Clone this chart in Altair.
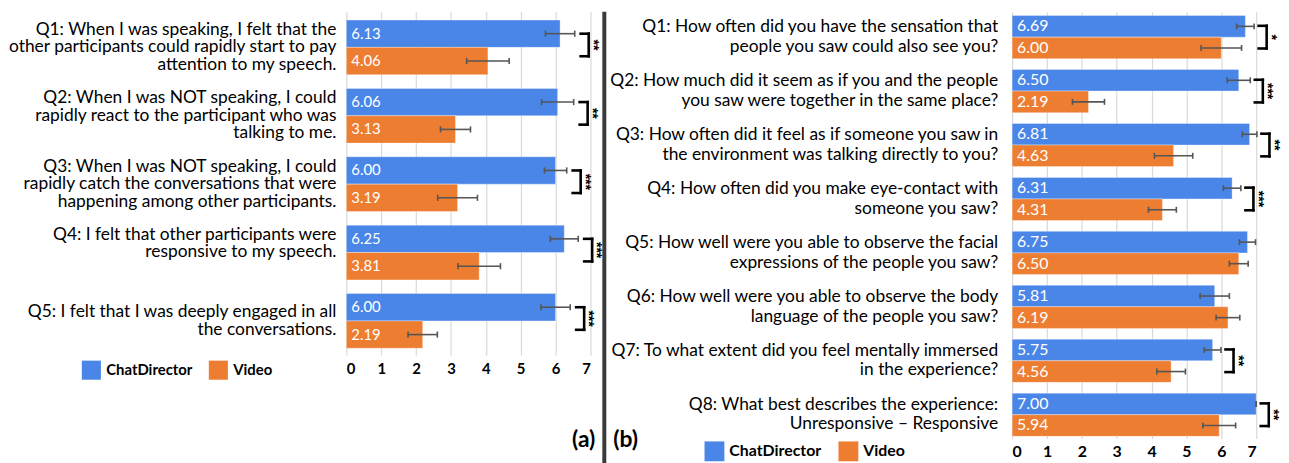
import altair as alt
import pandas as pd

SERIES = ["ChatDirector", "Video"]
COLORS = ["#4a86e8", "#ed7d31"]
FONT = "Lato"

# ---------------- panel (a) ----------------
left_questions = [
    "Q1: When I was speaking, I felt that the\nother participants could rapidly start to pay\nattention to my speech.",
    "Q2: When I was NOT speaking, I could\nrapidly react to the participant who was\ntalking to me.",
    "Q3: When I was NOT speaking, I could\nrapidly catch the conversations that were\nhappening among other participants.",
    "Q4: I felt that other participants were\nresponsive to my speech.\n ",
    "Q5: I felt that I was deeply engaged in all\nthe conversations.",
]
left_chat = [6.13, 6.06, 6.00, 6.25, 6.00]
left_video = [4.06, 3.13, 3.19, 3.81, 2.19]
left_chat_err = [0.42, 0.46, 0.32, 0.40, 0.42]
left_video_err = [0.61, 0.43, 0.57, 0.61, 0.42]
left_sig = ["**", "**", "***", "***", "***"]

# ---------------- panel (b) ----------------
right_questions = [
    "Q1: How often did you have the sensation that\npeople you saw could also see you?",
    "Q2: How much did it seem as if you and the people\nyou saw were together in the same place?",
    "Q3: How often did it feel as if someone you saw in\nthe environment was talking directly to you?",
    "Q4: How often did you make eye-contact with\nsomeone you saw?",
    "Q5: How well were you able to observe the facial\nexpressions of the people you saw?",
    "Q6: How well were you able to observe the body\nlanguage of the people you saw?",
    "Q7: To what extent did you feel mentally immersed\nin the experience?",
    "Q8: What best describes the experience:\nUnresponsive \u2013 Responsive",
]
right_chat = [6.69, 6.50, 6.81, 6.31, 6.75, 5.81, 5.75, 7.00]
right_video = [6.00, 2.19, 4.63, 4.31, 6.50, 6.19, 4.56, 5.94]
right_chat_err = [0.25, 0.33, 0.21, 0.25, 0.23, 0.42, 0.24, 0.0]
right_video_err = [0.58, 0.46, 0.55, 0.40, 0.27, 0.34, 0.41, 0.47]
right_sig = ["*", "***", "**", "***", "", "", "**", "**"]

X_TICKS = [0, 1, 2, 3, 4, 5, 6, 7]


def panel(questions, chat, video, chat_err, video_err, sig, cfg):
    n = len(questions)
    rows = []
    for i in range(n):
        for s, vals, errs, off in ((SERIES[0], chat, chat_err, -0.2),
                                   (SERIES[1], video, video_err, 0.2)):
            c = i + off
            rows.append(dict(series=s, value=vals[i], lo=vals[i] - errs[i],
                             hi=vals[i] + errs[i], c=c, y0=c - 0.2, y1=c + 0.2,
                             cap0=c - cfg["cap"], cap1=c + cfg["cap"], zero=0,
                             label=f"{vals[i]:.2f}"))
    bars = pd.DataFrame(rows)

    # one row per text line, stacked around the question's centre
    qrows = []
    for i, t in enumerate(questions):
        lines = t.split("\n")
        m = len(lines)
        for k, ln in enumerate(lines):
            qrows.append(dict(q=i + (k - (m - 1) / 2) * cfg["qlh_u"], text=ln))
    qdf = pd.DataFrame(qrows)

    brows = []
    for i in range(n):
        if not sig[i]:
            continue
        top = max(chat[i] + chat_err[i], video[i] + video_err[i])
        bx0 = top + cfg["boff"]
        bx1 = bx0 + cfg["bw"]
        yt = i + cfg["bt"]
        yb = i + cfg["bb"]
        brows.append(dict(bx0=bx0, bx1=bx1, yt=yt, yb=yb,
                          sx=bx1 + cfg["soff"], sy=(yt + yb) / 2, stars=sig[i]))
    br = pd.DataFrame(brows)

    xs = alt.Scale(domain=[0, 7], nice=False, zero=False)
    ys = alt.Scale(domain=cfg["ydom"], reverse=True, nice=False, zero=False)
    xaxis = alt.Axis(values=X_TICKS, grid=True, gridColor="#d9d9d9",
                     gridWidth=1.2, domain=False, ticks=False,
                     labelFont=FONT, labelFontWeight="bold",
                     labelFontSize=cfg["axfs"], labelColor="black",
                     labelPadding=cfg["axpad"], format="d", title=None)

    def X(field):
        return alt.X(field, scale=xs, axis=xaxis, title=None)

    def Y(field):
        return alt.Y(field, scale=ys, axis=None, title=None)

    base_bars = alt.Chart(bars)
    rect = base_bars.mark_rect(stroke="white", strokeOpacity=0.35, strokeWidth=1).encode(
        x=X("zero:Q"),
        x2="value:Q",
        y=Y("y0:Q"),
        y2="y1:Q",
        color=alt.Color("series:N", scale=alt.Scale(domain=SERIES, range=COLORS),
                        legend=alt.Legend(orient="none", legendX=cfg["lgx"],
                                          legendY=cfg["lgy"], direction="horizontal",
                                          title=None, symbolType="square",
                                          symbolSize=cfg["lgsym"], symbolStrokeWidth=0,
                                          labelFont=FONT, labelFontSize=cfg["lgfs"],
                                          labelFontWeight="bold", labelColor="black",
                                          columnPadding=cfg["lgcol"], labelOffset=5)),
    )
    err = base_bars.mark_rule(color="#555555", strokeWidth=1.6).encode(
        x=X("lo:Q"), x2="hi:Q", y=Y("c:Q"))
    cap_lo = base_bars.mark_rule(color="#555555", strokeWidth=1.6).encode(
        x=X("lo:Q"), y=Y("cap0:Q"), y2="cap1:Q")
    cap_hi = base_bars.mark_rule(color="#555555", strokeWidth=1.6).encode(
        x=X("hi:Q"), y=Y("cap0:Q"), y2="cap1:Q")
    vals = base_bars.mark_text(align="left", baseline="middle", dx=5, color="white",
                               font=FONT, fontSize=cfg["valfs"]).encode(
        x=X("zero:Q"), y=Y("c:Q"), text="label:N")

    base_br = alt.Chart(br)
    bstyle = dict(color="black", strokeWidth=2.6, strokeCap="square")
    b_top = base_br.mark_rule(**bstyle).encode(x=X("bx0:Q"), x2="bx1:Q", y=Y("yt:Q"))
    b_bot = base_br.mark_rule(**bstyle).encode(x=X("bx0:Q"), x2="bx1:Q", y=Y("yb:Q"))
    b_vert = base_br.mark_rule(**bstyle).encode(x=X("bx1:Q"), y=Y("yt:Q"), y2="yb:Q")
    stars = base_br.mark_text(angle=90, align="center", baseline="middle",
                              font="Liberation Sans", fontSize=cfg["starfs"],
                              fontWeight="bold", color="black").encode(
        x=X("sx:Q"), y=Y("sy:Q"), text="stars:N")

    qtext = alt.Chart(qdf).mark_text(align="right", baseline="middle",
                                     font=FONT, fontSize=cfg["qfs"],
                                     color="black").encode(
        x=alt.value(cfg["qx"]), y=Y("q:Q"), text="text:N")

    return alt.layer(rect, err, cap_lo, cap_hi, vals, b_top, b_bot, b_vert, stars,
                     qtext).properties(width=246, height=cfg["h"])


left_cfg = dict(ydom=[-0.52, 4.5], h=346, cap=0.045, boff=0.17, bw=0.23, bt=-0.2,
                bb=0.13, soff=0.12, starfs=14, qfs=17.5, qlh_u=0.257, qx=-10,
                valfs=15, axfs=15, axpad=7, lgx=-267, lgy=351, lgsym=370, lgfs=15,
                lgcol=16)
right_cfg = dict(ydom=[-0.47, 7.44], h=430, cap=0.055, boff=0.13, bw=0.23, bt=-0.21,
                 bb=0.21, soff=0.12, starfs=14, qfs=17.5, qlh_u=0.36, qx=-14,
                 valfs=16, axfs=16, axpad=5, lgx=-310, lgy=433, lgsym=400, lgfs=16,
                 lgcol=17)

left = panel(left_questions, left_chat, left_video, left_chat_err, left_video_err,
             left_sig, left_cfg)
right = panel(right_questions, right_chat, right_video, right_chat_err,
              right_video_err, right_sig, right_cfg)

one = pd.DataFrame({"t": [0]})
divider = alt.Chart(one).mark_rule(color="#3a3a3a", strokeWidth=4).encode(
    x=alt.value(260), y=alt.value(0), y2=alt.value(462))
anchor = alt.Chart(one).mark_rule(strokeOpacity=0).encode(
    x=alt.value(-338), y=alt.value(0), y2=alt.value(10))
tag_a = alt.Chart(pd.DataFrame({"t": ["(a)"]})).mark_text(
    align="right", baseline="middle", font=FONT, fontSize=23, fontWeight="bold",
    color="black").encode(x=alt.value(251), y=alt.value(432), text="t:N")
tag_b = alt.Chart(pd.DataFrame({"t": ["(b)"]})).mark_text(
    align="left", baseline="middle", font=FONT, fontSize=23, fontWeight="bold",
    color="black").encode(x=alt.value(-402), y=alt.value(432), text="t:N")

left_full = alt.layer(left, divider, anchor, tag_a)
right_full = alt.layer(right, tag_b)

chart = alt.hconcat(left_full, right_full, spacing=425, bounds="flush").resolve_scale(
    color="independent").resolve_legend(color="independent").properties(
    padding=0, background="white").configure_view(stroke=None)

chart.save("out.html", embed_options={"renderer": "svg", "actions": False})
